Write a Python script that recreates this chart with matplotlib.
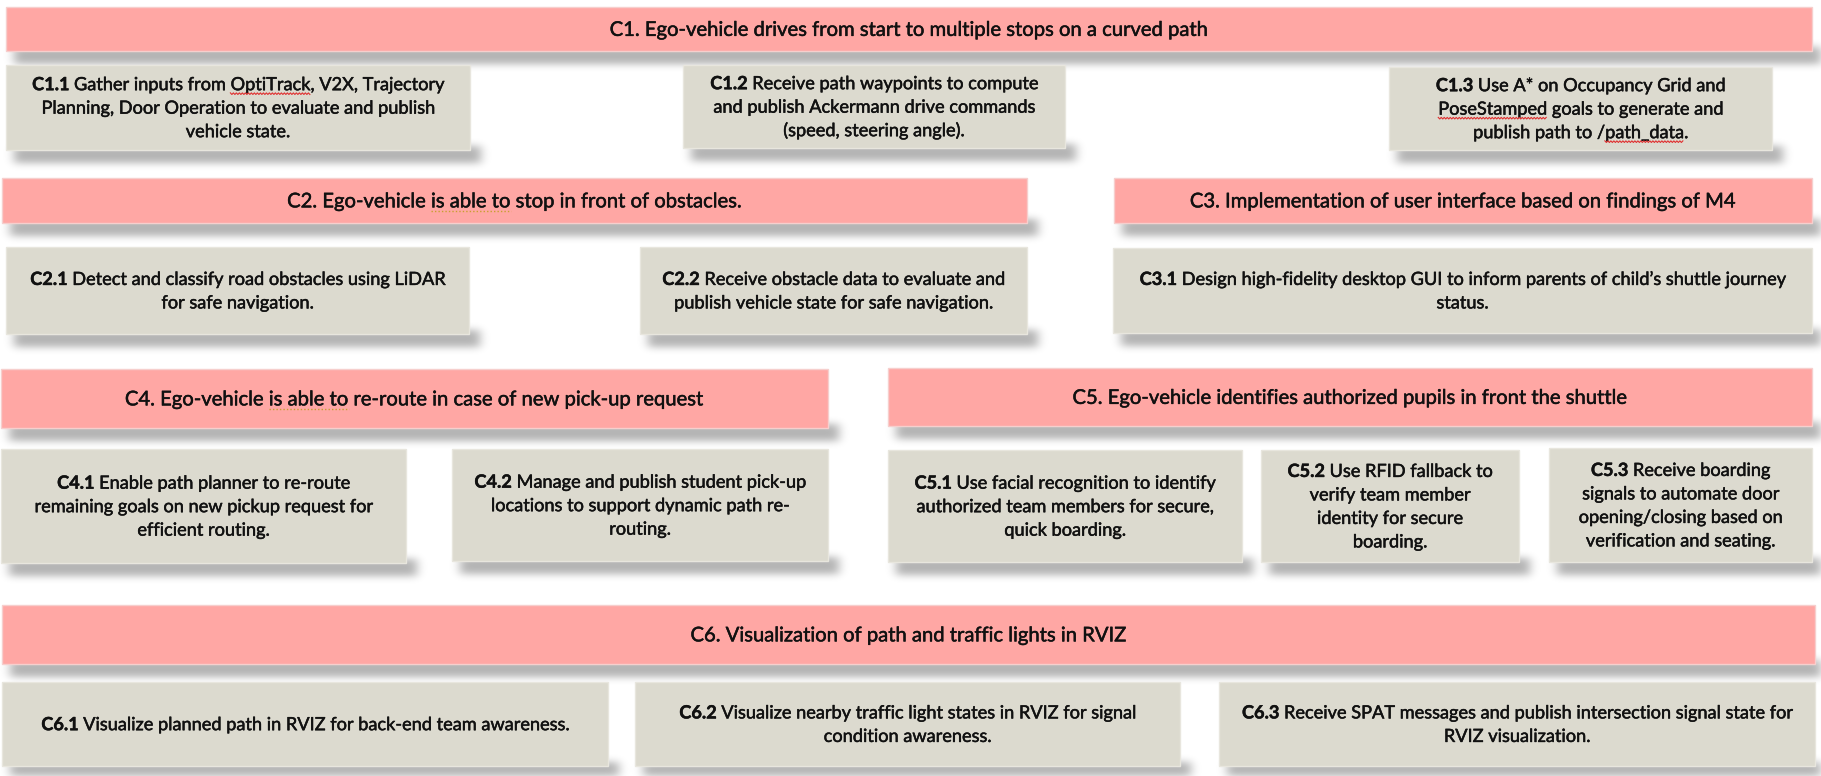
import numpy as np
import matplotlib
matplotlib.use("Agg")
import matplotlib.pyplot as plt
from matplotlib.patches import Rectangle
import matplotlib.patheffects as pe

# ---------------- data (texts) ----------------
group_titles = [
    "C1. Ego-vehicle drives from start to multiple stops on a curved path",
    "C2. Ego-vehicle is able to stop in front of obstacles.",
    "C3. Implementation of user interface based on findings of M4",
    "C4. Ego-vehicle is able to re-route in case of new pick-up request",
    "C5. Ego-vehicle identifies authorized pupils in front the shuttle",
    "C6. Visualization of path and traffic lights in RVIZ",
]
task_ids = ["C1.1", "C1.2", "C1.3", "C2.1", "C2.2", "C3.1", "C4.1", "C4.2",
            "C5.1", "C5.2", "C5.3", "C6.1", "C6.2", "C6.3"]
task_lines = [
    ["Gather inputs from OptiTrack, V2X, Trajectory", "Planning, Door Operation to evaluate and publish", "vehicle state."],
    ["Receive path waypoints to compute", "and publish Ackermann drive commands", "(speed, steering angle)."],
    ["Use A* on Occupancy Grid and", "PoseStamped goals to generate and", "publish path to /path_data."],
    ["Detect and classify road obstacles using LiDAR", "for safe navigation."],
    ["Receive obstacle data to evaluate and", "publish vehicle state for safe navigation."],
    ["Design high-fidelity desktop GUI to inform parents of child\u2019s shuttle journey", "status."],
    ["Enable path planner to re-route", "remaining goals on new pickup request for", "efficient routing."],
    ["Manage and publish student pick-up", "locations to support dynamic path re-", "routing."],
    ["Use facial recognition to identify", "authorized team members for secure,", "quick boarding."],
    ["Use RFID fallback to", "verify team member", "identity for secure", "boarding."],
    ["Receive boarding", "signals to automate door", "opening/closing based on", "verification and seating."],
    ["Visualize planned path in RVIZ for back-end team awareness."],
    ["Visualize nearby traffic light states in RVIZ for signal", "condition awareness."],
    ["Receive SPAT messages and publish intersection signal state for", "RVIZ visualization."],
]
# proofing marks: (kind, index, line, word, style)
proof_marks = [
    ("task", 0, 0, "OptiTrack", "wave"),
    ("task", 2, 1, "PoseStamped", "wave"),
    ("task", 2, 2, "path_data", "wave"),
    ("head", 1, 0, "is able to", "dots"),
    ("head", 3, 0, "is able to", "dots"),
]

# ---------------- layout (pixel boxes: x0, y0, x1, y1) ----------------
header_boxes = [(6, 7, 1812, 51), (2, 178, 1027, 223), (1114, 178, 1812, 223),
                (1, 369, 828, 428), (888, 368, 1812, 426), (2, 605, 1815, 664)]
task_boxes = [(6, 65, 470, 150), (683, 65, 1065, 148), (1389, 67, 1772, 150),
              (6, 247, 469, 334), (640, 247, 1027, 334), (1113, 248, 1812, 333),
              (1, 449, 406, 563), (452, 449, 828, 561),
              (888, 450, 1242, 562), (1261, 450, 1519, 562), (1549, 448, 1812, 562),
              (2, 682, 608, 766), (635, 682, 1180, 766), (1219, 682, 1815, 766)]

W, H, DPI = 1821, 776, 100
FONT = "Lato"
PINK = "#FFA7A4"
PINK_EDGE = "#F6CFCD"
GREY = "#DCDACF"
GREY_EDGE = "#E8E6DE"
TXT = "#111111"
LINE_H = 23.5
HEAVY = [pe.withStroke(linewidth=0.35, foreground=TXT)]

fig = plt.figure(figsize=(W / DPI, H / DPI), dpi=DPI)
ax = fig.add_axes([0, 0, 1, 1])
ax.set_xlim(0, W)
ax.set_ylim(H, 0)
ax.axis("off")
fig.canvas.draw()
renderer = fig.canvas.get_renderer()


def measure(s, size, weight="normal"):
    if not s:
        return 0.0
    t = ax.text(0, 0, s, fontsize=size, fontweight=weight, fontfamily=FONT)
    w = t.get_window_extent(renderer).width
    t.remove()
    return w


# font sizes fitted to reference line widths
ref_w = measure("C1.1", 10, "bold") + measure("x x", 10) - measure("xx", 10) + measure(task_lines[0][0], 10)
BODY = 10 * 413.0 / ref_w
HEAD = 10 * 599.0 / measure(group_titles[0], 10)

# ---------------- shadows ----------------
yy = np.arange(H)[:, None]
xx = np.arange(W)[None, :]
shadow = np.zeros((H, W))
for (x0, y0, x1, y1) in header_boxes + task_boxes:
    m = (xx >= x0 + 8) & (xx <= x1 + 10) & (yy >= y1 - 4) & (yy <= y1 + 12)
    shadow[m] = 1.0


def blur1d(arr, sigma, axis):
    r = int(3 * sigma)
    k = np.exp(-0.5 * (np.arange(-r, r + 1) / sigma) ** 2)
    k /= k.sum()
    return np.apply_along_axis(lambda v: np.convolve(v, k, mode="same"), axis, arr)


shadow = blur1d(blur1d(shadow, 3.8, 0), 5.0, 1)
rgba = np.zeros((H, W, 4))
rgba[..., 3] = np.clip(shadow, 0, 1) * 0.30
ax.imshow(rgba, extent=[0, W, H, 0], zorder=1, interpolation="bilinear")


def draw_box(b, face, edge):
    x0, y0, x1, y1 = b
    ax.add_patch(Rectangle((x0, y0), x1 - x0, y1 - y0, facecolor=face,
                           edgecolor=edge, linewidth=1.0, zorder=2))


def draw_line(segs, cx, base, size):
    """segs: list of (text, weight). returns list of (x_start, text, weight)."""
    sp = measure("x x", size) - measure("xx", size)
    widths = [measure(s, size, w) for s, w in segs]
    total = sum(widths) + sp * (len(segs) - 1)
    x = cx - total / 2
    out = []
    for (s, w), wd in zip(segs, widths):
        ax.text(x, base, s, fontsize=size, fontweight=w, fontfamily=FONT,
                color=TXT, ha="left", va="baseline", zorder=3,
                path_effects=HEAVY)
        out.append((x, s, w))
        x += wd + sp
    return out


def mark(placed, word, style, base, size):
    for x, s, w in placed:
        i = s.find(word)
        if i < 0:
            continue
        pre = s[:i]
        xs = x + measure(pre + "|", size, w) - measure("|", size, w)
        xe = xs + measure(word, size, w)
        y = base + 3.5
        if style == "wave":
            px = np.arange(xs, xe + 0.1, 1.5)
            py = y + np.where(np.arange(len(px)) % 2 == 0, -0.8, 0.8)
            ax.plot(px, py, color="#E03030", lw=0.8, zorder=4)
        else:
            ax.plot([xs, xe], [y, y], color="#C8A030", lw=1.0,
                    linestyle=(0, (1, 1.5)), zorder=4)


placed_head, placed_task = {}, {}
cap = 0.34 * BODY * DPI / 72
cap_h = 0.34 * HEAD * DPI / 72

for i, (b, title) in enumerate(zip(header_boxes, group_titles)):
    draw_box(b, PINK, PINK_EDGE)
    cx = (b[0] + b[2]) / 2
    base = (b[1] + b[3]) / 2 + cap_h
    placed_head[(i, 0)] = (draw_line([(title, "normal")], cx, base, HEAD), base, HEAD)

for i, (b, tid, lines) in enumerate(zip(task_boxes, task_ids, task_lines)):
    draw_box(b, GREY, GREY_EDGE)
    cx = (b[0] + b[2]) / 2
    cy = (b[1] + b[3]) / 2
    n = len(lines)
    first = cy - (n - 1) * LINE_H / 2 + cap
    for j, ln in enumerate(lines):
        base = first + j * LINE_H
        segs = [(tid, "bold"), (ln, "normal")] if j == 0 else [(ln, "normal")]
        placed_task[(i, j)] = (draw_line(segs, cx, base, BODY), base, BODY)

for kind, idx, ln, word, style in proof_marks:
    src = placed_task if kind == "task" else placed_head
    placed, base, size = src[(idx, ln)]
    mark(placed, word, style, base, size)

fig.savefig("out.png", dpi=DPI, facecolor="white")
